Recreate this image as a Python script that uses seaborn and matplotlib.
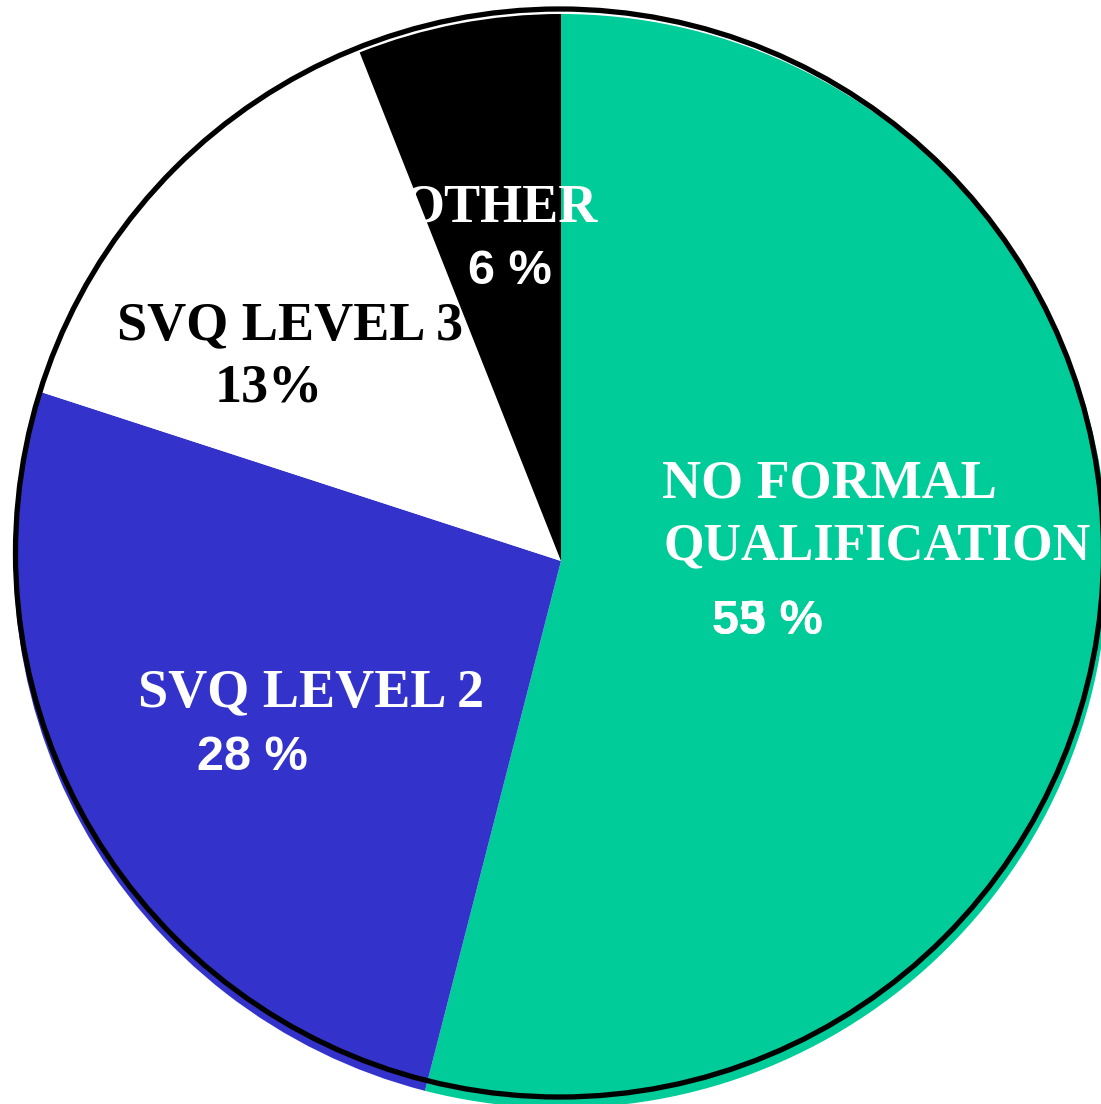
import numpy as np
import matplotlib.pyplot as plt
import seaborn as sns
from matplotlib.patches import Circle

sns.set_style("white")

# ==============================
# Data (shares, labels as printed)
# ==============================
categories = ["NO FORMAL\nQUALIFICATION", "SVQ LEVEL 2", "SVQ LEVEL 3", "OTHER"]
shares = [54, 26, 14, 6]
pct_labels = ["53 %", "28 %", "13%", "6 %"]
colors = ["#00CC99", "#3333CC", "#FFFFFF", "#000000"]

# ==============================
# Figure: axes span the full canvas, 547 px = 1 unit radius
# ==============================
W, H, R, CX, CY = 1101, 1104, 547.0, 561.0, 561.0
fig = plt.figure(figsize=(W / 100, H / 100), dpi=100)
ax = fig.add_axes([0, 0, 1, 1])


def px(x, y):
    # pixel position -> data coords
    return (x - CX) / R, (CY - y) / R


ax.pie(shares, colors=colors, startangle=90, counterclock=False, radius=1.0,
       wedgeprops=dict(linewidth=0))

# slightly offset black outline like the original
ocx, ocy = px(559.5, 553)
ax.add_patch(Circle((ocx, ocy), 544 / R, fill=False, edgecolor="black", lw=3.8))

ax.set_xlim(px(0, 0)[0], px(W, 0)[0])
ax.set_ylim(px(0, H)[1], px(0, 0)[1])
ax.set_aspect("equal")
ax.axis("off")

serif = dict(family="Liberation Serif", fontweight="bold", fontsize=39)
sans = dict(family="Liberation Sans", fontweight="bold", fontsize=35)

# category names
ax.text(*px(662, 484), "NO FORMAL", color="white", ha="left", va="center", **serif)
ax.text(*px(664, 546), "QUALIFICATION", color="white", ha="left", va="center",
        family="Liberation Serif", fontweight="bold", fontsize=37.5)
ax.text(*px(138, 693), categories[1], color="white", ha="left", va="center", **serif)
ax.text(*px(117, 326), categories[2], color="black", ha="left", va="center", **serif)
ax.text(*px(598, 208), categories[3], color="white", ha="right", va="center", **serif)

# percentages (the 53/55 label is overprinted in the original)
ax.text(*px(712, 621), pct_labels[0], color="white", ha="left", va="center", **sans)
ax.text(*px(712, 621), "55 %", color="white", ha="left", va="center", **sans)
ax.text(*px(197, 758), pct_labels[1], color="white", ha="left", va="center", **sans)
ax.text(*px(215, 388), pct_labels[2], color="black", ha="left", va="center", **serif)
ax.text(*px(468, 271), pct_labels[3], color="white", ha="left", va="center", **sans)

fig.savefig("out.png", dpi=100, facecolor="white")
